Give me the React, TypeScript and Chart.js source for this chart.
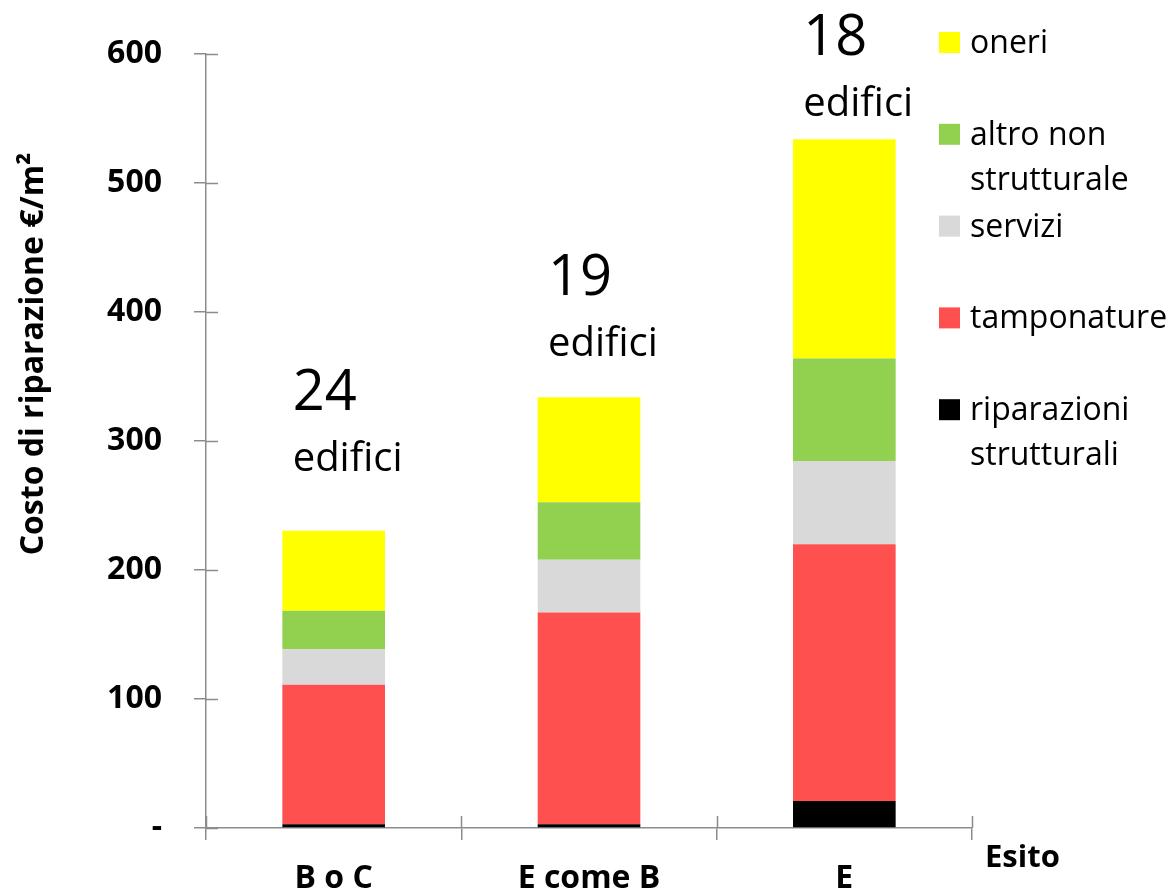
import React, { useEffect, useRef } from 'react';
import { Chart, registerables } from 'chart.js';

Chart.register(...registerables);

// ---- data ----
const categories = ['B o C', 'E come B', 'E'];
const riparazioniStrutturali = [3, 3, 21];
const tamponature = [108, 164, 199];
const servizi = [27.5, 41, 64.5];
const altroNonStrutturale = [30, 44.5, 79.5];
const oneri = [62, 81.5, 170];
const buildingCounts = ['24', '19', '18'];
const countWord = 'edifici';
const countLabelLevels = [324, 413, 599];
const yTickValues = [0, 100, 200, 300, 400, 500, 600];
const legendLabels = [
  ['oneri'],
  ['altro non', 'strutturale'],
  ['servizi'],
  ['tamponature'],
  ['riparazioni', 'strutturali'],
];
const legendColors = ['#FFFF00', '#92D050', '#D9D9D9', '#FF5050', '#000000'];
const yTitle = 'Costo di riparazione €/m²';
const xTitle = 'Esito';

const AXIS_COLOR = '#8c8c8c';
const FONT = '"Open Sans", "DejaVu Sans", sans-serif';

const decorPlugin = {
  id: 'decor',
  afterDraw(chart: any) {
    const { ctx, chartArea, scales } = chart;
    const xs = scales.x;
    const ys = scales.y;
    ctx.save();
    // inward halves of tick marks
    ctx.strokeStyle = AXIS_COLOR;
    ctx.lineWidth = 1.5;
    ctx.beginPath();
    yTickValues.forEach((v) => {
      const py = Math.round(ys.getPixelForValue(v)) + 0.5;
      ctx.moveTo(chartArea.left, py);
      ctx.lineTo(chartArea.left + 12, py);
    });
    for (let i = 0; i <= categories.length; i++) {
      const px = Math.round(xs.getPixelForValue(i - 0.5)) + 0.5;
      ctx.moveTo(px, chartArea.bottom);
      ctx.lineTo(px, chartArea.bottom - 12);
    }
    ctx.stroke();

    // building count annotations
    ctx.fillStyle = '#000';
    ctx.textAlign = 'left';
    ctx.textBaseline = 'alphabetic';
    categories.forEach((_, i) => {
      const left = xs.getPixelForValue(i) - 41;
      const base = ys.getPixelForValue(countLabelLevels[i]);
      ctx.font = `56px ${FONT}`;
      ctx.fillText(buildingCounts[i], left, base);
      ctx.font = `40px ${FONT}`;
      ctx.fillText(countWord, left, base + 61);
    });

    // legend
    ctx.font = `32px ${FONT}`;
    legendLabels.forEach((lines, i) => {
      const base = 53 + i * 91.8;
      ctx.fillStyle = legendColors[i];
      ctx.fillRect(939, base - 21, 21, 21);
      ctx.fillStyle = '#000';
      lines.forEach((t, j) => ctx.fillText(t, 970, base + j * 45));
    });

    // x axis title
    ctx.font = `bold 31px ${FONT}`;
    ctx.fillText(xTitle, 985, 867);

    // y axis title
    ctx.translate(43, 354);
    ctx.rotate(-Math.PI / 2);
    ctx.textAlign = 'center';
    ctx.font = `bold 32px ${FONT}`;
    ctx.fillText(yTitle, 0, 0);
    ctx.restore();
  },
};

export default function App() {
  const ref = useRef<HTMLCanvasElement | null>(null);
  useEffect(() => {
    document.body.style.margin = '0';
    const canvas = ref.current;
    if (!canvas) return;
    const mk = (label: string, data: number[], color: string) => ({
      label,
      data,
      backgroundColor: color,
      borderWidth: 0,
      barPercentage: 0.402,
      categoryPercentage: 1,
    });
    const chart = new Chart(canvas, {
      type: 'bar',
      data: {
        labels: categories,
        datasets: [
          mk('riparazioni strutturali', riparazioniStrutturali, legendColors[4]),
          mk('tamponature', tamponature, legendColors[3]),
          mk('servizi', servizi, legendColors[2]),
          mk('altro non strutturale', altroNonStrutturale, legendColors[1]),
          mk('oneri', oneri, legendColors[0]),
        ],
      },
      options: {
        responsive: false,
        animation: false,
        devicePixelRatio: 1,
        layout: { padding: { top: 54, right: 201, bottom: 0, left: 0 } },
        plugins: {
          legend: { display: false },
          tooltip: { enabled: false },
        },
        scales: {
          x: {
            stacked: true,
            border: { display: true, color: AXIS_COLOR, width: 1.5 },
            grid: {
              offset: true,
              drawOnChartArea: false,
              drawTicks: true,
              tickLength: 12,
              color: AXIS_COLOR,
              lineWidth: 1.5,
            },
            ticks: {
              color: '#000',
              padding: 20,
              font: { family: FONT, size: 32, weight: 'bold' },
              maxRotation: 0,
            },
            afterFit: (scale: any) => {
              scale.height = 62;
            },
          },
          y: {
            stacked: true,
            min: 0,
            max: 600,
            border: { display: true, color: AXIS_COLOR, width: 1.5 },
            grid: {
              drawOnChartArea: false,
              drawTicks: true,
              tickLength: 12,
              color: AXIS_COLOR,
              lineWidth: 1.5,
            },
            ticks: {
              stepSize: 100,
              color: '#000',
              padding: 32,
              font: { family: FONT, size: 32, weight: 'bold' },
              callback: (v: any) => (Number(v) === 0 ? '-' : String(v)),
            },
            afterFit: (scale: any) => {
              scale.width = 206;
            },
          },
        },
      },
      plugins: [decorPlugin],
    });
    return () => chart.destroy();
  }, []);
  return <canvas ref={ref} width={1173} height={890} style={{ display: 'block' }} />;
}
